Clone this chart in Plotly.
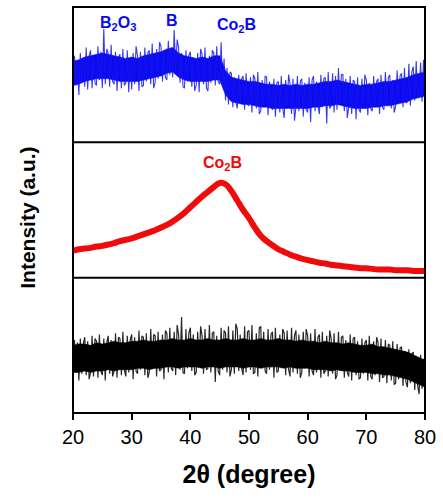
import plotly.graph_objects as go
from plotly.subplots import make_subplots

# two-theta grids
x_fine = [20 + 0.25 * i for i in range(241)]
x_deg = list(range(20, 81))

blue_vals = [
    38, 64, 42, 60, 35, 66, 44, 62, 41, 70, 39, 64, 68, 40, 63, 44, 42, 71, 46, 67,
    40, 84, 43, 69, 66, 41, 72, 45, 43, 67, 38, 63, 65, 40, 69, 42, 44, 68, 37, 62,
    39, 66, 43, 71, 64, 38, 67, 41, 42, 70, 45, 66, 68, 43, 73, 40, 44, 69, 47, 74,
    71, 45, 67, 48, 46, 75, 50, 70, 48, 83, 52, 76, 70, 44, 66, 41, 40, 68, 45, 64,
    67, 41, 63, 38, 42, 66, 37, 69, 65, 43, 70, 40, 38, 64, 44, 68, 66, 42, 71, 45,
    43, 74, 41, 62, 31, 55, 28, 52, 51, 26, 48, 30, 25, 50, 29, 47, 49, 24, 51, 28,
    27, 48, 22, 50, 47, 25, 52, 21, 23, 46, 28, 49, 48, 20, 45, 26, 24, 47, 19, 44,
    45, 22, 49, 25, 18, 46, 27, 50, 43, 21, 47, 16, 26, 49, 23, 45, 47, 19, 44, 24,
    22, 48, 15, 46, 49, 23, 45, 27, 21, 50, 26, 47, 48, 14, 52, 25, 27, 51, 22, 49,
    24, 55, 28, 50, 50, 23, 47, 18, 26, 49, 21, 46, 45, 17, 48, 24, 22, 47, 26, 50,
    46, 20, 44, 25, 23, 49, 27, 45, 47, 21, 50, 26, 24, 52, 28, 48, 50, 25, 46, 22,
    27, 53, 30, 49, 51, 26, 55, 29, 30, 58, 27, 52, 56, 31, 60, 33, 34, 59, 30, 61,
    44,
]

# dense core of the blue trace, upper / lower edge per degree
blue_core_hi = [60, 61, 63, 64, 65, 66, 65, 64, 63, 62, 63, 62, 64, 65, 66, 67, 69,
                70, 66, 64, 63, 62, 63, 62, 64, 64, 53, 48, 47, 46, 45, 45, 44, 43,
                43, 42, 43, 42, 43, 42, 43, 43, 44, 45, 45, 46, 45, 44, 43, 42, 43,
                43, 44, 45, 45, 46, 47, 48, 50, 51, 52]
blue_core_lo = [42, 43, 45, 46, 47, 47, 47, 46, 45, 45, 45, 45, 46, 47, 48, 49, 51,
                52, 48, 46, 45, 45, 45, 45, 46, 46, 35, 30, 29, 28, 28, 27, 26, 26,
                25, 25, 25, 25, 25, 25, 25, 26, 26, 27, 27, 28, 27, 26, 25, 25, 25,
                26, 26, 27, 27, 28, 29, 30, 32, 33, 34]

red_vals = [
    20, 21, 21.5, 22, 23, 23.5, 24.5, 25.5, 27, 28, 29, 30.5, 32, 33.5, 35, 37, 39,
    41.5, 44.5, 48, 52, 56, 60, 63.5, 67, 70, 69, 64, 57, 50, 44, 37, 31, 27, 24, 21,
    19, 17, 15.5, 14, 13, 12, 11, 10.5, 9.5, 9, 8.5, 8, 7.5, 7, 7, 6.5, 6, 6, 6, 5.5,
    5.5, 5.5, 5, 5, 5,
]

black_vals = [
    27, 54, 30, 52, 24, 55, 29, 51, 56, 28, 53, 25, 30, 57, 27, 55, 53, 26, 58, 31,
    28, 55, 24, 52, 57, 29, 54, 27, 31, 59, 26, 56, 55, 28, 60, 32, 27, 57, 30, 54,
    58, 25, 56, 31, 29, 61, 32, 57, 56, 28, 59, 26, 30, 62, 33, 58, 57, 27, 60, 31,
    32, 58, 25, 61, 59, 30, 63, 33, 31, 60, 28, 65, 58, 32, 71, 30, 29, 62, 33, 59,
    63, 31, 58, 28, 30, 60, 34, 64, 57, 29, 62, 32, 33, 65, 30, 59, 60, 23, 57, 31,
    28, 63, 32, 61, 59, 30, 64, 27, 32, 61, 29, 66, 62, 31, 58, 33, 28, 64, 30, 60,
    61, 32, 65, 29, 30, 59, 27, 63, 64, 33, 60, 31, 29, 62, 32, 58, 60, 26, 63, 30,
    31, 58, 33, 62, 59, 28, 61, 32, 27, 63, 30, 57, 61, 29, 58, 26, 30, 60, 33, 62,
    57, 27, 59, 31, 28, 62, 30, 56, 58, 26, 60, 29, 31, 57, 27, 61, 55, 29, 59, 25,
    28, 60, 31, 56, 57, 26, 54, 30, 27, 58, 24, 55, 56, 28, 53, 25, 26, 55, 29, 52,
    54, 24, 57, 27, 25, 53, 28, 56, 52, 23, 55, 26, 27, 54, 22, 51, 50, 24, 53, 21,
    22, 51, 25, 48, 49, 20, 46, 23, 19, 47, 22, 44, 45, 17, 42, 20, 14, 43, 18, 40,
    13,
]

# dense core of the black trace, upper / lower edge per degree
black_core_hi = [50, 51, 51, 50, 52, 51, 52, 53, 52, 52, 53, 53, 54, 53, 53, 54, 54,
                 55, 54, 54, 55, 54, 54, 55, 54, 54, 55, 54, 54, 55, 54, 54, 55, 54,
                 54, 55, 54, 54, 53, 54, 53, 53, 52, 53, 52, 52, 51, 52, 51, 50, 50,
                 51, 49, 49, 48, 47, 46, 45, 43, 41, 39]
black_core_lo = [30, 30, 31, 30, 31, 31, 32, 31, 32, 32, 32, 33, 33, 32, 33, 33, 34,
                 34, 33, 34, 34, 34, 33, 34, 34, 33, 34, 34, 34, 33, 34, 34, 33, 34,
                 34, 34, 33, 34, 33, 33, 33, 32, 32, 32, 31, 32, 31, 31, 30, 30, 30,
                 29, 29, 28, 28, 27, 26, 25, 23, 21, 19]

x_ticks = [20, 30, 40, 50, 60, 70, 80]

FONT = "Liberation Sans, Arial, sans-serif"
BLUE = "rgb(10,10,240)"
RED = "rgb(240,10,10)"

fig = make_subplots(rows=3, cols=1, shared_xaxes=True, vertical_spacing=0)


def add_core(xs, hi, lo, color, row):
    fig.add_trace(go.Scatter(x=xs + xs[::-1], y=hi + lo[::-1], mode="lines",
                             fill="toself", fillcolor=color,
                             line=dict(color=color, width=0.5),
                             hoverinfo="skip"), row=row, col=1)


add_core(x_deg, blue_core_hi, blue_core_lo, BLUE, 1)
fig.add_trace(go.Scatter(x=x_fine, y=blue_vals, mode="lines",
                         line=dict(color="rgba(20,20,240,0.85)", width=1.1)), row=1, col=1)
fig.add_trace(go.Scatter(x=x_deg, y=red_vals, mode="lines",
                         line=dict(color=RED, width=6, shape="spline")), row=2, col=1)
add_core(x_deg, black_core_hi, black_core_lo, "black", 3)
fig.add_trace(go.Scatter(x=x_fine, y=black_vals, mode="lines",
                         line=dict(color="rgba(0,0,0,0.85)", width=1.2)), row=3, col=1)

for r in (1, 2, 3):
    fig.update_yaxes(range=[0, 100], showticklabels=False, ticks="", showgrid=False,
                     zeroline=False, showline=False, row=r, col=1)
    fig.update_xaxes(range=[20, 80], showgrid=False, zeroline=False, showline=False,
                     row=r, col=1)
for r in (1, 2):
    fig.update_xaxes(showticklabels=False, ticks="", row=r, col=1)
fig.update_xaxes(ticks="outside", ticklen=6, tickwidth=2, tickcolor="black",
                 tickvals=x_ticks, ticktext=[str(t) for t in x_ticks],
                 tickfont=dict(family=FONT, size=20, color="black"),
                 title=dict(text="<b>2θ (degree)</b>", standoff=18,
                            font=dict(family=FONT, size=25, color="black")),
                 row=3, col=1)

# frame
fig.add_shape(type="rect", xref="paper", yref="paper", x0=0, x1=1, y0=0, y1=1,
              line=dict(color="black", width=2), layer="above")
for yy in (1 / 3, 2 / 3):
    fig.add_shape(type="line", xref="paper", yref="paper", x0=0, x1=1, y0=yy, y1=yy,
                  line=dict(color="black", width=2), layer="above")

ann_font = dict(family=FONT, size=16)
fig.add_annotation(x=27.6, y=88, xref="x", yref="y", text="<b>B<sub>2</sub>O<sub>3</sub></b>",
                   showarrow=False, font=dict(ann_font, color=BLUE))
fig.add_annotation(x=36.9, y=90, xref="x", yref="y", text="<b>B</b>",
                   showarrow=False, font=dict(ann_font, color=BLUE))
fig.add_annotation(x=47.9, y=86, xref="x", yref="y", text="<b>Co<sub>2</sub>B</b>",
                   showarrow=False, font=dict(ann_font, color=BLUE))
fig.add_annotation(x=45.5, y=84, xref="x2", yref="y2", text="<b>Co<sub>2</sub>B</b>",
                   showarrow=False, font=dict(ann_font, color=RED))

fig.add_annotation(x=-0.17, y=0.48, xref="paper", yref="paper", text="<b>Intensity (a.u.)</b>",
                   textangle=-90, showarrow=False,
                   font=dict(family=FONT, size=21, color="black"))

fig.update_layout(width=443, height=499, margin=dict(l=73, r=15, t=7, b=86),
                  paper_bgcolor="white", plot_bgcolor="white", showlegend=False,
                  font=dict(family=FONT, color="black"))

fig.write_html("out.html")
